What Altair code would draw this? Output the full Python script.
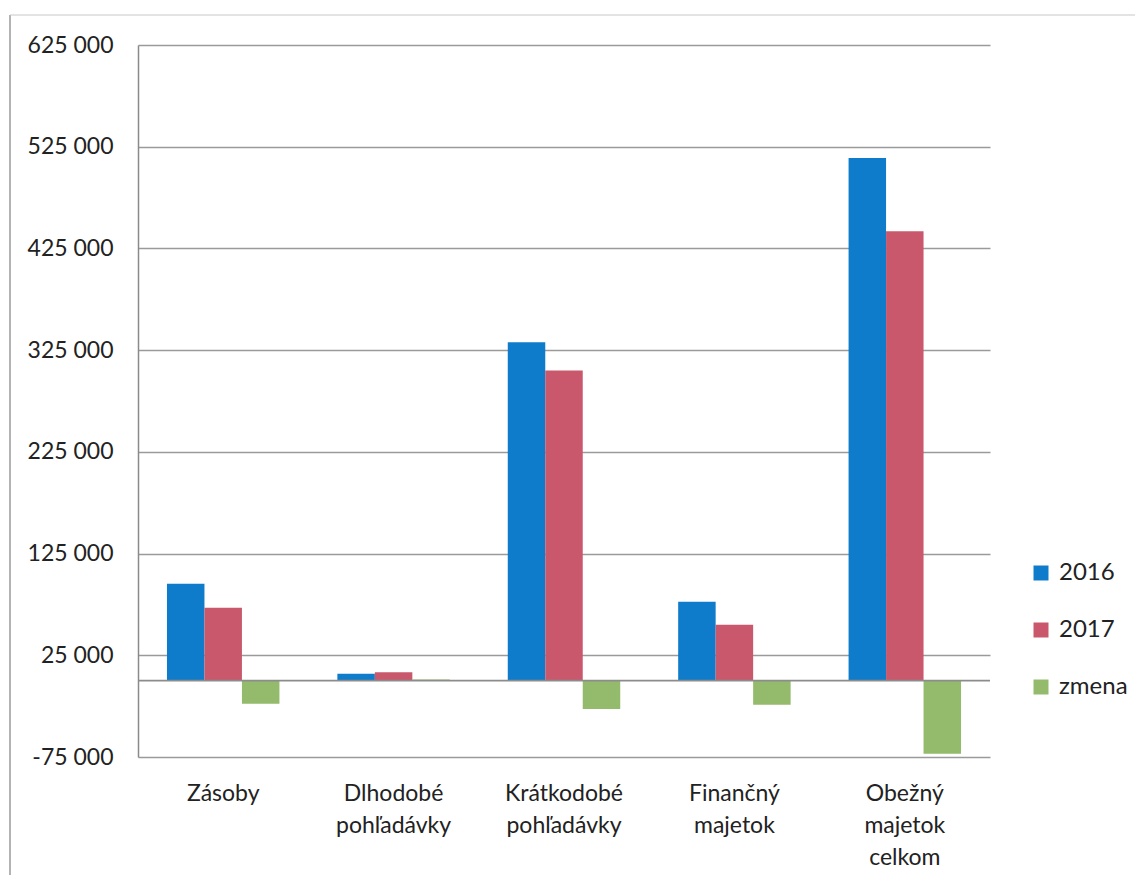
import altair as alt
import pandas as pd

categories = ["Zásoby", "Dlhodobé pohľadávky", "Krátkodobé pohľadávky", "Finančný majetok", "Obežný majetok celkom"]
series = ["2016", "2017", "zmena"]
v2016 = [95400, 6900, 332800, 77700, 514000]
v2017 = [71800, 8200, 304900, 55100, 441800]
zmena = [-22600, 1300, -27900, -23600, -71800]
y_ticks = [-75000, 25000, 125000, 225000, 325000, 425000, 525000, 625000]
colors = ["#0E7CCA", "#CA586D", "#94BA6B"]

rows = []
for i, c in enumerate(categories):
    for s, vals in zip(series, [v2016, v2017, zmena]):
        rows.append({"kategoria": c, "seria": s, "hodnota": vals[i]})
df = pd.DataFrame(rows)

FONT = "Lato"

base = alt.Chart(df)

bars = base.mark_bar().encode(
    x=alt.X("kategoria:N", sort=categories, title=None,
            scale=alt.Scale(paddingInner=0.34, paddingOuter=0.17),
            axis=alt.Axis(labelAngle=0, labelExpr="split(datum.label, ' ')",
                          labelLineHeight=32, labelFontSize=23, labelPadding=25,
                          domain=False, ticks=False, grid=False,
                          labelColor="#222222", labelFont=FONT)),
    xOffset=alt.XOffset("seria:N", sort=series, scale=alt.Scale(paddingInner=0, paddingOuter=0)),
    y=alt.Y("hodnota:Q", title=None,
            scale=alt.Scale(domain=[-75000, 625000], nice=False, zero=False),
            axis=alt.Axis(values=y_ticks,
                          labelExpr="replace(replace(format(datum.value, ','), ',', ' '), '\u2212', '-')",
                          labelFontSize=23, labelPadding=25, ticks=False,
                          domain=True, domainColor="#8a8a8a", domainWidth=1.5,
                          grid=True, gridColor="#9a9a9a", gridWidth=1.5,
                          labelColor="#222222", labelFont=FONT)),
    color=alt.Color("seria:N", sort=series, title=None,
                    scale=alt.Scale(domain=series, range=colors),
                    legend=alt.Legend(orient="none", legendX=891, legendY=516,
                                      symbolType="square", symbolSize=225,
                                      symbolStrokeWidth=0, labelFontSize=24,
                                      rowPadding=33, labelFont=FONT, labelOffset=6,
                                      labelColor="#222222", symbolOpacity=1)),
)

zero_df = pd.DataFrame({"y": [0]})
zero_rule = alt.Chart(zero_df).mark_rule(color="#8c8c8c", strokeWidth=1.8).encode(y="y:Q")

frame_left = alt.Chart(zero_df).mark_rule(color="#9a9a9a", strokeWidth=1.5).encode(
    x=alt.value(-128), y=alt.value(-30), y2=alt.value(830))
frame_top = alt.Chart(zero_df).mark_rule(color="#c8c8c8", strokeWidth=1).encode(
    x=alt.value(-128), x2=alt.value(1000), y=alt.value(-30))

chart = alt.layer(bars, zero_rule, frame_left, frame_top).properties(
    width=852, height=712,
    padding={"left": 130, "top": 37, "right": 145, "bottom": 125},
    autosize=alt.AutoSizeParams(type="none"),
).configure(font=FONT).configure_view(stroke="transparent", strokeWidth=0)

chart.save("out.html", embed_options={"renderer": "svg", "actions": False})
